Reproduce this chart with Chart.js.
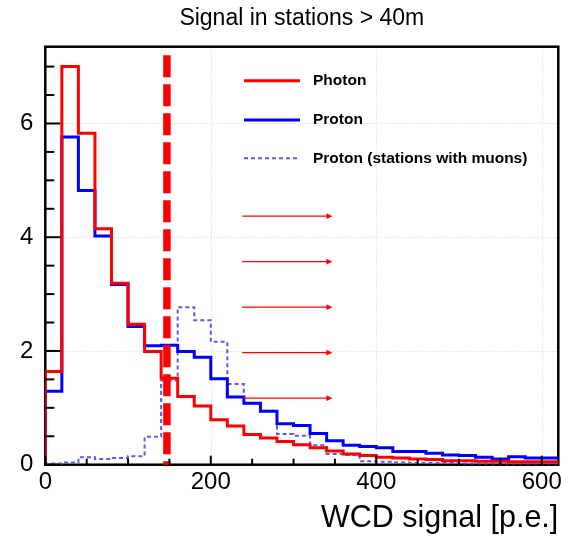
<!DOCTYPE html>
<html>
<head>
<meta charset="utf-8">
<script src="https://cdn.jsdelivr.net/npm/chart.js@4.4.1/dist/chart.umd.min.js"></script>
<style>
  html, body { margin: 0; padding: 0; background: #fff; }
</style>
</head>
<body>
<canvas id="wcd" width="573" height="539"></canvas>
<script>
// histogram bins, 20 p.e. wide
const binEdges = [0, 20, 40, 60, 80, 100, 120, 140, 160, 180, 200, 220, 240, 260, 280, 300,
  320, 340, 360, 380, 400, 420, 440, 460, 480, 500, 520, 540, 560, 580, 600, 620];

const photon = [1.64, 7.00, 5.83, 4.15, 3.19, 2.47, 1.99, 1.52, 1.20, 1.03, 0.79, 0.68, 0.53, 0.47,
  0.41, 0.35, 0.30, 0.24, 0.19, 0.16, 0.13, 0.12, 0.10, 0.09, 0.07, 0.07, 0.06, 0.06, 0.05, 0.05, 0.05];

const proton = [1.29, 5.76, 4.82, 4.02, 3.17, 2.43, 2.09, 2.10, 1.99, 1.89, 1.51, 1.19, 1.08, 0.94,
  0.72, 0.69, 0.55, 0.42, 0.34, 0.32, 0.30, 0.23, 0.23, 0.20, 0.17, 0.16, 0.13, 0.10, 0.14, 0.12, 0.12];

const protonMuons = [0.02, 0.04, 0.13, 0.10, 0.12, 0.15, 0.49, 1.48, 2.77, 2.54, 2.16, 1.42, 1.08, 0.95,
  0.54, 0.51, 0.34, 0.19, 0.17, 0.06, 0.05, 0.04, 0.03, 0.03, 0.03, 0.02, 0.02, 0.02, 0.02, 0.02, 0.02];

const seriesNames = ['Photon', 'Proton', 'Proton (stations with muons)'];
const xTicks = [0, 200, 400, 600];
const yTicks = [0, 2, 4, 6];
const cutValue = 147;
const arrowLevels = [4.37, 3.57, 2.77, 1.97, 1.17];
const arrowFrom = 238;
const arrowTo = 347;

const FONT = '"Liberation Sans", Arial, Helvetica, sans-serif';

function histPoints(values) {
  const pts = [{ x: binEdges[0], y: 0 }];
  values.forEach((v, i) => pts.push({ x: binEdges[i], y: v }));
  pts.push({ x: binEdges[binEdges.length - 1], y: values[values.length - 1] });
  return pts;
}

// frame, inner ticks, grid, cut line, arrows and legend in ROOT style
const rootStyle = {
  id: 'rootStyle',
  beforeDatasetsDraw(chart) {
    const { ctx, chartArea: a, scales: { x, y } } = chart;
    ctx.save();
    ctx.strokeStyle = '#d4d4d4';
    ctx.lineWidth = 1;
    ctx.setLineDash([1, 2]);
    xTicks.slice(1).forEach(v => {
      const px = Math.round(x.getPixelForValue(v)) + 0.5;
      ctx.beginPath(); ctx.moveTo(px, a.top); ctx.lineTo(px, a.bottom); ctx.stroke();
    });
    yTicks.slice(1).forEach(v => {
      const py = Math.round(y.getPixelForValue(v)) + 0.5;
      ctx.beginPath(); ctx.moveTo(a.left, py); ctx.lineTo(a.right, py); ctx.stroke();
    });
    ctx.setLineDash([]);
    // frame goes under the histograms
    ctx.strokeStyle = '#000';
    ctx.lineWidth = 2.5;
    ctx.strokeRect(a.left, a.top, a.right - a.left, a.bottom - a.top);
    ctx.restore();
  },
  afterDatasetsDraw(chart) {
    const { ctx, chartArea: a, scales: { x, y } } = chart;
    ctx.save();

    // cut line
    ctx.strokeStyle = '#ff0000';
    ctx.lineWidth = 7.5;
    ctx.setLineDash([22, 7]);
    const cx = x.getPixelForValue(cutValue);
    ctx.beginPath(); ctx.moveTo(cx, a.top + 8.5); ctx.lineTo(cx, a.bottom); ctx.stroke();
    ctx.setLineDash([]);

    // arrows
    ctx.lineWidth = 1.4;
    ctx.fillStyle = '#ff0000';
    arrowLevels.forEach(v => {
      const py = y.getPixelForValue(v);
      const x0 = x.getPixelForValue(arrowFrom);
      const x1 = x.getPixelForValue(arrowTo);
      ctx.beginPath(); ctx.moveTo(x0, py); ctx.lineTo(x1 - 5, py); ctx.stroke();
      ctx.beginPath();
      ctx.moveTo(x1, py); ctx.lineTo(x1 - 6, py - 2.8); ctx.lineTo(x1 - 6, py + 2.8);
      ctx.closePath(); ctx.fill();
    });

    // inner ticks
    ctx.strokeStyle = '#000';
    ctx.lineWidth = 2;
    for (let v = 0; v <= x.max; v += 50) {
      const px = x.getPixelForValue(v);
      const len = v % 200 === 0 ? 9 : 6;
      ctx.beginPath(); ctx.moveTo(px, a.bottom); ctx.lineTo(px, a.bottom - len); ctx.stroke();
    }
    for (let v = 0; v <= y.max; v += 0.5) {
      const py = y.getPixelForValue(v);
      const len = v % 2 === 0 ? 15 : 9;
      ctx.beginPath(); ctx.moveTo(a.left, py); ctx.lineTo(a.left + len, py); ctx.stroke();
    }

    // legend
    const rows = [
      { ds: chart.data.datasets[0], yPix: 80.7 },
      { ds: chart.data.datasets[1], yPix: 120 },
      { ds: chart.data.datasets[2], yPix: 158.3 }
    ];
    ctx.font = 'bold 15.5px ' + FONT;
    ctx.textBaseline = 'middle';
    ctx.textAlign = 'left';
    rows.forEach(r => {
      ctx.strokeStyle = r.ds.borderColor;
      ctx.lineWidth = r.ds.borderWidth;
      ctx.setLineDash(r.ds.borderDash || []);
      ctx.beginPath(); ctx.moveTo(244, r.yPix); ctx.lineTo(300, r.yPix); ctx.stroke();
      ctx.setLineDash([]);
      ctx.fillStyle = '#000';
      ctx.fillText(r.ds.label, 313, r.yPix);
    });
    ctx.restore();
  }
};

new Chart(document.getElementById('wcd'), {
  type: 'line',
  data: {
    datasets: [
      {
        label: seriesNames[0],
        data: histPoints(photon),
        borderColor: '#ff0000',
        borderWidth: 3,
        stepped: true,
        pointRadius: 0,
        fill: false
      },
      {
        label: seriesNames[1],
        data: histPoints(proton),
        borderColor: '#0000ff',
        borderWidth: 3,
        stepped: true,
        pointRadius: 0,
        fill: false
      },
      {
        label: seriesNames[2],
        data: histPoints(protonMuons),
        borderColor: '#5a5ae6',
        borderWidth: 2,
        borderDash: [4, 3],
        stepped: true,
        pointRadius: 0,
        fill: false
      }
    ]
  },
  options: {
    responsive: false,
    animation: false,
    devicePixelRatio: 1,
    layout: { padding: { left: 0, right: 14.7, top: 0, bottom: 0 } },
    plugins: {
      legend: { display: false },
      tooltip: { enabled: false },
      title: {
        display: true,
        fullSize: false,
        text: 'Signal in stations > 40m',
        color: '#000',
        font: { family: FONT, size: 23, weight: 'normal' },
        padding: { top: 5, bottom: 14.1 }
      }
    },
    scales: {
      x: {
        type: 'linear',
        min: 0,
        max: 620,
        afterBuildTicks: s => { s.ticks = xTicks.map(v => ({ value: v })); },
        afterFit: s => { s.height = 74.3; },
        grid: { display: false, drawTicks: false },
        border: { display: false },
        ticks: {
          color: '#000',
          font: { family: FONT, size: 24 },
          padding: 3,
          maxRotation: 0,
          autoSkip: false
        },
        title: {
          display: true,
          text: 'WCD signal [p.e.]',
          align: 'end',
          color: '#000',
          font: { family: FONT, size: 30.5 },
          padding: { top: 0, bottom: 2 }
        }
      },
      y: {
        min: 0,
        max: 7.35,
        afterBuildTicks: s => { s.ticks = yTicks.map(v => ({ value: v })); },
        afterFit: s => { s.width = 45.3; },
        grid: { display: false, drawTicks: false },
        border: { display: false },
        ticks: {
          color: '#000',
          font: { family: FONT, size: 24 },
          padding: 12
        }
      }
    }
  },
  plugins: [rootStyle]
});
</script>
</body>
</html>
